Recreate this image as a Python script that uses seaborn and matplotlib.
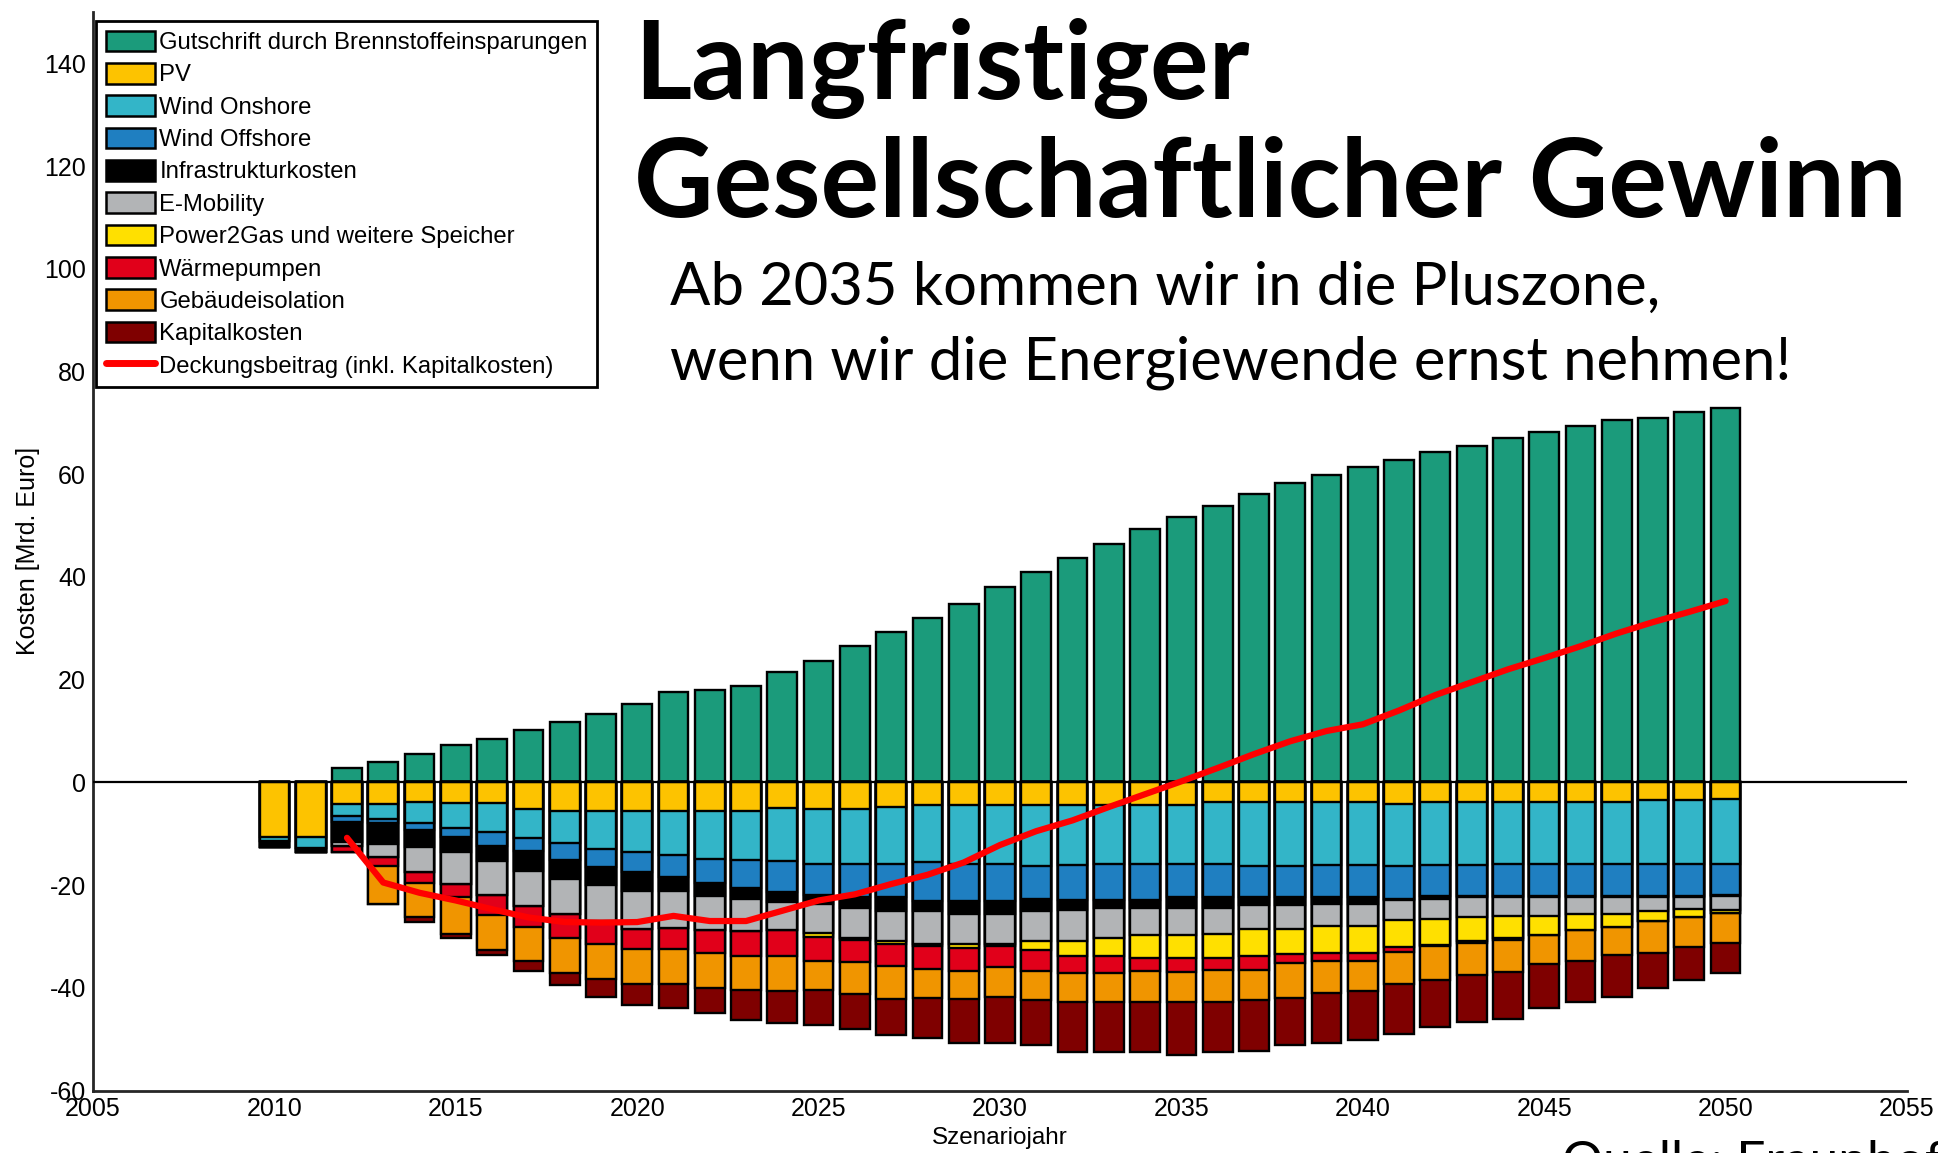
import numpy as np
import seaborn as sns
import matplotlib.pyplot as plt
from matplotlib.patches import Patch
from matplotlib.lines import Line2D

# Szenariojahre 2010..2050
years = list(range(2010, 2051))

# Gutschrift (positiv), Werte in Mrd. Euro
gutschrift = [0, 0, 2.7, 4.0, 5.6, 7.3, 8.4, 10.1, 11.7, 13.4,
              15.2, 17.5, 18.0, 18.7, 21.5, 23.7, 26.5, 29.2, 32.0, 34.8,
              38.1, 40.9, 43.6, 46.5, 49.3, 51.6, 53.8, 56.1, 58.2, 59.9,
              61.5, 62.7, 64.4, 65.5, 67.1, 68.3, 69.4, 70.5, 71.0, 72.2, 72.8]

# Kosten (Betrag, werden nach unten gestapelt)
pv = [10.6, 10.6, 4.2, 4.2, 3.8, 4.0, 4.0, 5.1, 5.6, 5.6,
      5.6, 5.6, 5.6, 5.6, 5.0, 5.1, 5.1, 4.8, 4.4, 4.4,
      4.4, 4.4, 4.4, 4.4, 4.4, 4.4, 3.8, 3.8, 3.8, 3.8,
      3.8, 4.2, 3.8, 3.8, 3.8, 3.8, 3.8, 3.8, 3.5, 3.5, 3.3]
wind_on = [0.9, 2.1, 2.4, 2.9, 4.1, 4.8, 5.7, 5.7, 6.2, 7.3,
           8.0, 8.5, 9.3, 9.5, 10.4, 10.8, 10.8, 11.1, 11.2, 11.5,
           11.5, 11.8, 11.6, 11.5, 11.5, 11.5, 12.1, 12.4, 12.4, 12.2,
           12.2, 12.0, 12.2, 12.2, 12.1, 12.1, 12.1, 12.1, 12.4, 12.4, 12.6]
wind_off = [0, 0, 1.1, 0.9, 1.4, 1.9, 2.6, 2.5, 3.3, 3.6,
            3.8, 4.4, 4.6, 5.4, 6.0, 6.0, 6.5, 6.5, 7.5, 7.2,
            7.2, 6.5, 6.9, 7.0, 7.0, 6.5, 6.5, 6.2, 6.2, 6.4,
            6.4, 6.5, 6.1, 6.1, 6.2, 6.2, 6.2, 6.2, 6.2, 6.2, 6.0]
infra = [1.0, 0.9, 3.9, 4.0, 3.2, 2.9, 3.1, 3.9, 3.7, 3.4,
         3.7, 2.6, 2.6, 2.2, 1.8, 1.7, 2.0, 2.6, 1.9, 2.5,
         2.5, 2.3, 2.0, 1.5, 1.5, 2.0, 2.0, 1.5, 1.5, 1.3,
         1.3, 0.3, 0.6, 0.2, 0.2, 0.2, 0.2, 0.2, 0.2, 0.2, 0.2]
emob = [0, 0, 0.7, 2.6, 5.0, 6.1, 6.5, 6.9, 6.9, 7.1,
        7.5, 7.2, 6.7, 6.2, 5.6, 5.7, 5.9, 5.9, 6.4, 5.8,
        5.8, 5.9, 6.0, 5.9, 5.3, 5.3, 5.1, 4.7, 4.7, 4.3,
        4.3, 3.8, 4.0, 4.0, 3.7, 3.7, 3.3, 3.3, 2.7, 2.4, 2.8]
p2g = [0, 0, 0, 0, 0, 0, 0, 0, 0, 0,
       0, 0, 0, 0, 0, 0.8, 0.4, 0.5, 0.5, 0.8,
       0.5, 1.8, 3.0, 3.6, 4.5, 4.5, 4.7, 5.3, 4.9, 5.2,
       5.2, 5.2, 4.9, 4.6, 4.3, 3.7, 3.2, 2.6, 2.0, 1.6, 0.5]
waermepumpen = [0, 0, 1.3, 1.6, 2.0, 2.7, 3.9, 4.1, 4.6, 4.4,
                3.9, 4.2, 4.4, 5.0, 5.1, 4.7, 4.3, 4.4, 4.5, 4.5,
                4.1, 4.1, 3.2, 3.2, 2.6, 2.7, 2.3, 2.6, 1.6, 1.6,
                1.6, 1.0, 0.3, 0.4, 0.3, 0, 0, 0, 0, 0, 0]
gebaeude = [0, 0, 0, 7.5, 6.8, 7.1, 6.9, 6.6, 6.8, 6.8,
            6.8, 6.8, 6.9, 6.5, 6.7, 5.6, 6.3, 6.3, 5.5, 5.5,
            5.8, 5.6, 5.7, 5.7, 5.9, 5.8, 6.2, 5.9, 6.9, 6.2,
            5.8, 6.2, 6.6, 6.2, 6.4, 5.7, 6.0, 5.5, 6.2, 5.8, 5.8]
kapital = [0, 0, 0, 0, 0.9, 0.9, 1.0, 1.9, 2.3, 3.5,
           4.0, 4.7, 4.9, 5.9, 6.2, 6.9, 6.7, 7.1, 7.9, 8.5,
           8.9, 8.8, 9.7, 9.7, 9.8, 10.4, 9.8, 10.0, 9.2, 9.8,
           9.6, 9.8, 9.2, 9.2, 9.1, 8.6, 8.0, 8.0, 6.9, 6.3, 5.9]

# Deckungsbeitrag (rote Linie), ab 2012
line_years = list(range(2012, 2051))
deckung = [-10.8, -19.5, -21.5, -23.0, -24.7, -26.3, -27.2, -27.3, -27.2, -26.0,
           -27.0, -27.0, -25.0, -23.0, -21.8, -19.8, -18.0, -15.6, -12.2, -9.5,
           -7.4, -4.8, -2.3, 0.2, 2.8, 5.5, 8.0, 10.0, 11.3, 14.0,
           17.0, 19.5, 22.0, 24.2, 26.5, 29.0, 31.2, 33.2, 35.3]

labels = ['Gutschrift durch Brennstoffeinsparungen', 'PV', 'Wind Onshore',
          'Wind Offshore', 'Infrastrukturkosten', 'E-Mobility',
          'Power2Gas und weitere Speicher', 'Wärmepumpen', 'Gebäudeisolation',
          'Kapitalkosten']
colors = ['#1b9b7b', '#fdc300', '#33b5c8', '#1f7fc1', '#000000', '#b2b4b6',
          '#ffe000', '#e1001a', '#f09500', '#7f0000']
line_label = 'Deckungsbeitrag (inkl. Kapitalkosten)'

sns.set_style('white')
plt.rcParams['font.family'] = ['Liberation Sans', 'DejaVu Sans']
plt.rcParams['axes.unicode_minus'] = False
for k in ['text.color', 'axes.labelcolor', 'xtick.color', 'ytick.color']:
    plt.rcParams[k] = 'black'

fig = plt.figure(figsize=(19.38, 11.53), dpi=100)
ax = fig.add_axes([0.048, 0.0542, 0.936, 0.9354])

bar_kw = dict(saturation=1, width=0.82, native_scale=True, errorbar=None,
              edgecolor='black', linewidth=1.7, ax=ax)

# positive Gutschrift
sns.barplot(x=years, y=gutschrift, color=colors[0], **bar_kw)

# negative Kosten: kumulieren, tiefsten Balken zuerst zeichnen
costs = [pv, wind_on, wind_off, infra, emob, p2g, waermepumpen, gebaeude, kapital]
cum = -np.cumsum(np.array(costs), axis=0)
for i in range(len(costs) - 1, -1, -1):
    sns.barplot(x=years, y=cum[i], color=colors[i + 1], **bar_kw)

ax.axhline(0, color='black', lw=1.6, zorder=3)
sns.lineplot(x=line_years, y=deckung, color='red', lw=4.5, ax=ax, zorder=4)

ax.set_xlim(2005, 2055)
ax.set_ylim(-60, 150)
ax.set_xticks(range(2005, 2056, 5))
ax.set_xticklabels([str(y) for y in range(2005, 2056, 5)])
ax.set_yticks(range(-60, 141, 20))
ax.tick_params(direction='in', length=13, width=1.5, labelsize=18, pad=5)
for s in ['top', 'right']:
    ax.spines[s].set_visible(False)
for s in ['left', 'bottom']:
    ax.spines[s].set_linewidth(2)
ax.set_xlabel('Szenariojahr', fontsize=17.5, labelpad=4)
ax.set_ylabel('Kosten [Mrd. Euro]', fontsize=18)
ax.yaxis.set_label_coords(-0.029, 0.5)

handles = [Patch(facecolor=c, edgecolor='black', linewidth=1.8) for c in colors]
handles.append(Line2D([0], [0], color='red', lw=5))
leg = fig.legend(handles, labels + [line_label], loc='upper left',
                 bbox_to_anchor=(96 / 1938, 1 - 21 / 1153), bbox_transform=fig.transFigure,
                 fancybox=False, edgecolor='black', fontsize=17.2, framealpha=1,
                 handlelength=2.05, handleheight=0.95, handletextpad=0.2,
                 labelspacing=0.37, borderpad=0.4, borderaxespad=0)
leg.get_frame().set_linewidth(2)

# Titel und Kommentar
title_font = dict(family=['Lato', 'DejaVu Sans'], ha='left', va='baseline')
fig.text(634 / 1938, 1 - 99 / 1153, 'Langfristiger', fontweight='bold', fontsize=79, **title_font)
fig.text(634 / 1938, 1 - 217 / 1153, 'Gesellschaftlicher Gewinn', fontweight='bold',
         fontsize=79, **title_font)
fig.text(670 / 1938, 1 - 305 / 1153, 'Ab 2035 kommen wir in die Pluszone,',
         fontsize=43, **title_font)
fig.text(670 / 1938, 1 - 380 / 1153, 'wenn wir die Energiewende ernst nehmen!',
         fontsize=43, **title_font)
fig.text(1562 / 1938, 1 - 1177 / 1153, 'Quelle: Fraunhofer ISE', fontsize=37, **title_font)

fig.savefig('out.png', dpi=100)
